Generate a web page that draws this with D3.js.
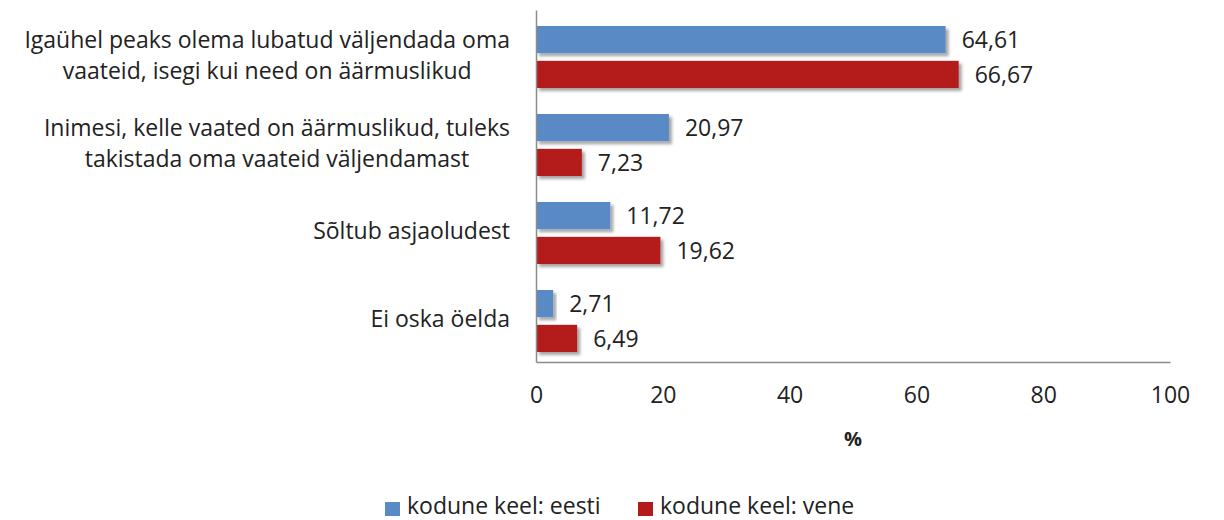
<!DOCTYPE html>
<html>
<head>
<meta charset="utf-8">
<script src="https://cdn.jsdelivr.net/npm/d3@7"></script>
<style>
  body { margin: 0; background: #fff; }
  svg text { font-family: "Open Sans", sans-serif; fill: #222; }
</style>
</head>
<body>
<svg id="chart" width="1224" height="520"></svg>
<script>
// data
const categories = [
  ["Igaühel peaks olema lubatud väljendada oma", "vaateid, isegi kui need on äärmuslikud"],
  ["Inimesi, kelle vaated on äärmuslikud, tuleks", "takistada oma vaateid väljendamast"],
  ["Sõltub asjaoludest"],
  ["Ei oska öelda"]
];
const seriesNames = ["kodune keel: eesti", "kodune keel: vene"];
const eesti = [64.61, 20.97, 11.72, 2.71];
const vene = [66.67, 7.23, 19.62, 6.49];
const xTicks = [0, 20, 40, 60, 80, 100];
const colors = ["#5a8ac6", "#b41a1a"];

const svg = d3.select("#chart");
const margin = {left: 536, right: 1170, top: 10, bottom: 362};
const fontSize = "23px";

const x = d3.scaleLinear().domain([0, 100]).range([margin.left, margin.right]);
const y = d3.scaleBand().domain(d3.range(categories.length)).range([margin.top, margin.bottom]);
const yInner = d3.scaleBand().domain([0, 1]).range([16, 78]).paddingInner(0.22);

const fmt = v => d3.format(".2f")(v).replace(".", ",");

// shadow under bars
const defs = svg.append("defs");
defs.append("filter")
    .attr("id", "shadow")
    .attr("x", "-10%").attr("y", "-30%")
    .attr("width", "130%").attr("height", "180%")
  .append("feDropShadow")
    .attr("dx", 3).attr("dy", 3)
    .attr("stdDeviation", 1.8)
    .attr("flood-color", "#000")
    .attr("flood-opacity", 0.35);

const rows = categories.map((c, i) => ({i: i, values: [eesti[i], vene[i]]}));

const group = svg.append("g").selectAll("g")
  .data(rows)
  .enter().append("g")
    .attr("transform", d => `translate(0,${y(d.i)})`);

group.selectAll("rect")
  .data(d => d.values.map((v, s) => ({v: v, s: s})))
  .enter().append("rect")
    .attr("x", x(0))
    .attr("y", d => yInner(d.s))
    .attr("width", d => x(d.v) - x(0))
    .attr("height", yInner.bandwidth())
    .attr("fill", d => colors[d.s])
    .attr("filter", "url(#shadow)");

group.selectAll("text.val")
  .data(d => d.values.map((v, s) => ({v: v, s: s})))
  .enter().append("text")
    .attr("class", "val")
    .attr("x", d => x(d.v) + 16)
    .attr("y", d => yInner(d.s) + yInner.bandwidth() / 2)
    .attr("dy", "0.36em")
    .style("font-size", fontSize)
    .text(d => fmt(d.v));

// category labels: block right aligned, lines centred in block
const labelRight = 510;
const labels = svg.append("g").selectAll("text")
  .data(categories)
  .enter().append("text")
    .attr("text-anchor", "middle")
    .style("font-size", fontSize);

labels.each(function(lines, i) {
  const t = d3.select(this);
  const lh = 31;
  const cy = y(i) + y.bandwidth() / 2 + 1;
  lines.forEach((ln, k) => {
    t.append("tspan")
      .attr("y", cy + (k - (lines.length - 1) / 2) * lh)
      .attr("dy", "0.36em")
      .text(ln);
  });
  let w = 0;
  t.selectAll("tspan").each(function() { w = Math.max(w, this.getComputedTextLength()); });
  t.selectAll("tspan").attr("x", labelRight - w / 2);
});

// axes
const xAxis = svg.append("g")
    .attr("transform", `translate(0,${margin.bottom})`)
    .call(d3.axisBottom(x).tickValues(xTicks).tickSize(0).tickPadding(25));
xAxis.select(".domain").attr("stroke", "#8c8c8c").attr("stroke-width", 1.5);
xAxis.selectAll("text")
    .style("font-size", fontSize)
    .style("font-family", "'Open Sans', sans-serif")
    .attr("fill", "#111");

const yAxis = svg.append("g")
    .attr("transform", `translate(${margin.left},0)`)
    .call(d3.axisLeft(y).tickSize(0).tickFormat(""));
yAxis.select(".domain").attr("stroke", "#8c8c8c").attr("stroke-width", 1.5);

svg.append("text")
    .attr("x", (margin.left + margin.right) / 2)
    .attr("y", 439)
    .attr("dy", "0.35em")
    .attr("text-anchor", "middle")
    .style("font-size", "20px")
    .style("font-weight", "bold")
    .text("%");

// legend
const legendX = [385, 638];
const legend = svg.append("g").selectAll("g")
  .data(seriesNames)
  .enter().append("g")
    .attr("transform", (d, i) => `translate(${legendX[i]},508)`);
legend.append("rect")
    .attr("x", 0).attr("y", -6)
    .attr("width", 15).attr("height", 14)
    .attr("fill", (d, i) => colors[i]);
legend.append("text")
    .attr("x", 22)
    .attr("y", 6)
    .style("font-size", fontSize)
    .text(d => d);
</script>
</body>
</html>
